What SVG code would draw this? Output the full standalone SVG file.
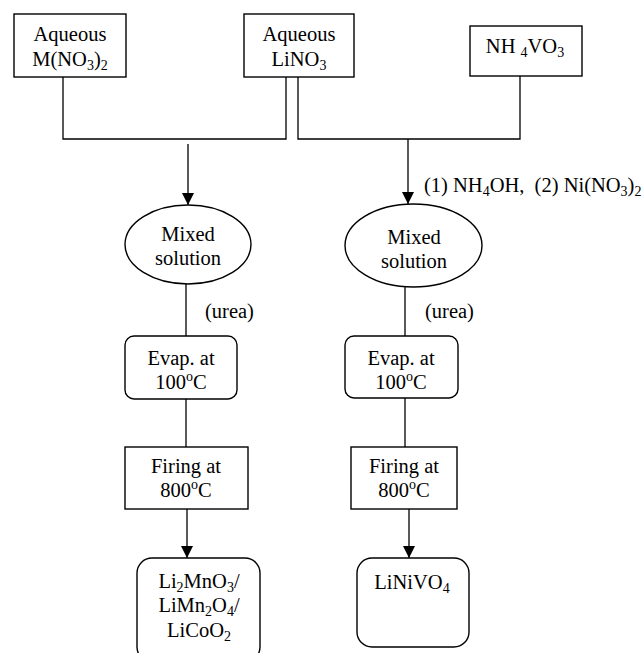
<svg xmlns="http://www.w3.org/2000/svg" width="644" height="653" viewBox="0 0 644 653">
<style>
.box{fill:#fff;stroke:#000;stroke-width:1.4}
.ln{fill:none;stroke:#000;stroke-width:1.3}
text{font-family:"Liberation Serif","Times New Roman",serif;font-size:20.5px;fill:#000}
.c{text-anchor:middle}
.s{font-size:14px}
.pre{white-space:pre}
</style>
<defs>
<marker id="ah" markerUnits="userSpaceOnUse" markerWidth="12" markerHeight="14" refX="12" refY="6" orient="auto">
<path d="M0,0 L12,6 L0,12 Z" fill="#000"/>
</marker>
</defs>
<rect width="644" height="653" fill="#fff"/>
<g id="connectors">
<polyline class="ln" points="63,77 63,139 286,139 286,77"/>
<polyline class="ln" points="298,77 298,139 520,139 520,76"/>
<line class="ln" x1="188" y1="144" x2="188" y2="205" marker-end="url(#ah)"/>
<line class="ln" x1="408" y1="139" x2="408" y2="204" marker-end="url(#ah)"/>
<line class="ln" x1="186" y1="284" x2="186" y2="336"/>
<line class="ln" x1="405" y1="287" x2="405" y2="336"/>
<line class="ln" x1="186" y1="399" x2="186" y2="447"/>
<line class="ln" x1="405" y1="398" x2="405" y2="447"/>
<line class="ln" x1="187" y1="509" x2="187" y2="558" marker-end="url(#ah)"/>
<line class="ln" x1="409" y1="509" x2="409" y2="558" marker-end="url(#ah)"/>
<text class="pre" xml:space="preserve" x="424" y="192">(1) NH<tspan class="s" dy="4">4</tspan><tspan dy="-4">OH,  (2) Ni(NO</tspan><tspan class="s" dy="4">3</tspan><tspan dy="-4">)</tspan><tspan class="s" dy="4">2</tspan></text>
<text x="205" y="318">(urea)</text>
<text x="425" y="318">(urea)</text>
</g>
<g id="n1">
<rect class="box" x="14" y="14" width="112" height="63"/>
<text class="c" x="70" y="41">Aqueous</text>
<text class="c" x="70" y="66">M(NO<tspan class="s" dy="4">3</tspan><tspan dy="-4">)</tspan><tspan class="s" dy="4">2</tspan></text>
</g>
<g id="n2">
<rect class="box" x="244" y="14" width="110" height="63"/>
<text class="c" x="299" y="41">Aqueous</text>
<text class="c" x="299" y="66">LiNO<tspan class="s" dy="4">3</tspan></text>
</g>
<g id="n3">
<rect class="box" x="470" y="26" width="112" height="50"/>
<text class="c" x="525" y="53">NH <tspan class="s" dy="4">4</tspan><tspan dy="-4">VO</tspan><tspan class="s" dy="4">3</tspan></text>
</g>
<g id="n4">
<ellipse class="box" cx="188" cy="244.5" rx="63" ry="39.5"/>
<text class="c" x="188" y="241">Mixed</text>
<text class="c" x="188" y="265">solution</text>
</g>
<g id="n5">
<ellipse class="box" cx="413.5" cy="245.5" rx="68.5" ry="41.5"/>
<text class="c" x="414" y="244">Mixed</text>
<text class="c" x="414" y="268">solution</text>
</g>
<g id="n6">
<rect class="box" x="125" y="336" width="112" height="63" rx="9"/>
<text class="c" x="181" y="365">Evap. at</text>
<text class="c" x="181" y="389">100<tspan class="s" dy="-8">o</tspan><tspan dy="8">C</tspan></text>
</g>
<g id="n7">
<rect class="box" x="345" y="336" width="113" height="62" rx="9"/>
<text class="c" x="401" y="365">Evap. at</text>
<text class="c" x="401" y="389">100<tspan class="s" dy="-8">o</tspan><tspan dy="8">C</tspan></text>
</g>
<g id="n8">
<rect class="box" x="125" y="447" width="123" height="62"/>
<text class="c" x="186" y="473">Firing at</text>
<text class="c" x="186" y="497">800<tspan class="s" dy="-8">o</tspan><tspan dy="8">C</tspan></text>
</g>
<g id="n9">
<rect class="box" x="351" y="447" width="106" height="62"/>
<text class="c" x="404" y="473">Firing at</text>
<text class="c" x="404" y="497">800<tspan class="s" dy="-8">o</tspan><tspan dy="8">C</tspan></text>
</g>
<g id="n10">
<rect class="box" x="137" y="558" width="123" height="104" rx="15"/>
<text class="c" x="199" y="588">Li<tspan class="s" dy="4">2</tspan><tspan dy="-4">MnO</tspan><tspan class="s" dy="4">3</tspan><tspan dy="-4">/</tspan></text>
<text class="c" x="199" y="612">LiMn<tspan class="s" dy="4">2</tspan><tspan dy="-4">O</tspan><tspan class="s" dy="4">4</tspan><tspan dy="-4">/</tspan></text>
<text class="c" x="199" y="637">LiCoO<tspan class="s" dy="4">2</tspan></text>
</g>
<g id="n11">
<rect class="box" x="357" y="558" width="112" height="89" rx="15"/>
<text class="c" x="412" y="589">LiNiVO<tspan class="s" dy="4">4</tspan></text>
</g>
</svg>
